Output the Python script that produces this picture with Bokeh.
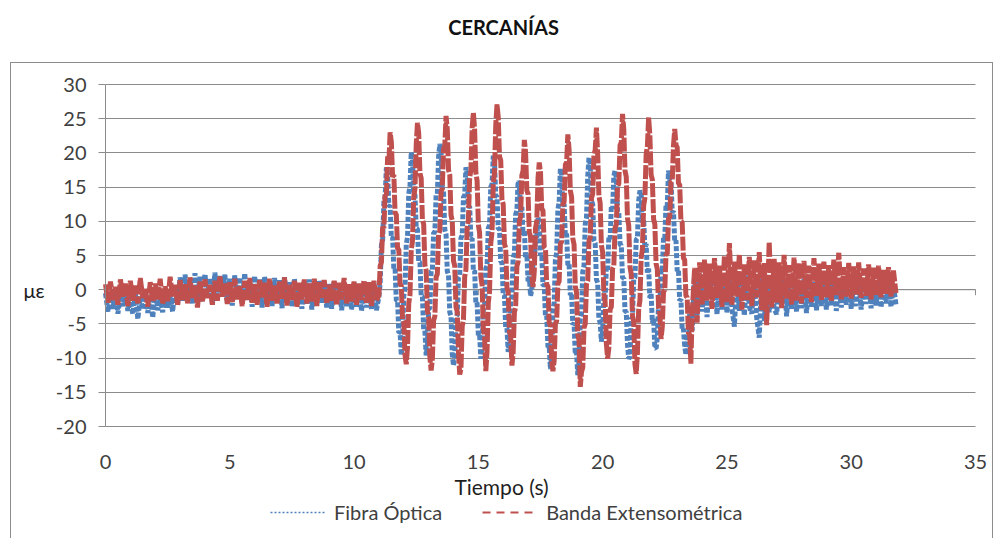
import numpy as np
from bokeh.plotting import figure
from bokeh.models import (Range1d, FixedTicker, Legend, LegendItem,
                          ColumnDataSource, InlineStyleSheet, Label)
from bokeh.embed import file_html
from bokeh.resources import INLINE

# ---------------- data ----------------
titulo = "CERCANÍAS"
eje_x = "Tiempo (s)"
eje_y = "με"
serie_fibra = "Fibra Óptica"
serie_banda = "Banda Extensométrica"
ticks_x = [0, 5, 10, 15, 20, 25, 30, 35]
ticks_y = [-20, -15, -10, -5, 0, 5, 10, 15, 20, 25, 30]

# tramo 1: 0.0 - 10.9 s, cada 0.1 s
fibra_ini = [
    -0.5, -3.2, -1.0, -2.8, 0.2, -3.5, -0.8, -2.4, -0.2, -3.1,
    -1.2, -3.6, -0.4, -4.3, -1.0, -2.9, 0.1, -3.4, -0.9, -4.1,
    -0.3, -3.0, -1.1, -3.3, 0.0, -2.6, -0.6, -3.2, 0.6, -2.2,
    1.8, -1.6, 2.2, -0.9, 1.5, -2.0, 2.4, -1.3, 1.9, -1.8,
    2.3, -1.1, 1.7, -2.1, 2.5, -1.4, 2.0, -0.8, 2.2, -1.9,
    1.6, -2.3, 2.1, -1.2, 1.8, -2.0, 2.4, -1.6, 1.3, -2.5,
    2.0, -1.7, 1.5, -2.6, 1.9, -1.3, 1.2, -2.4, 1.7, -2.0,
    1.4, -2.7, 1.8, -1.5, 1.1, -2.5, 1.6, -2.2, 0.9, -2.8,
    1.3, -2.1, 1.5, -2.9, 0.8, -2.3, 1.4, -1.9, 1.0, -2.6,
    0.9, -2.8, 1.2, -2.2, 0.6, -3.0, 1.0, -2.4, 0.7, -2.9,
    1.1, -2.5, 0.5, -3.1, 0.9, -2.6, 0.4, -2.8, 1.0, -3.0,
]
banda_ini = [
    0.8, -1.9, 1.2, -1.5, 0.4, -2.2, 1.5, -1.0, 0.9, -2.4,
    1.3, -1.6, 0.6, -2.0, 1.7, -1.2, 0.3, -2.5, 1.1, -1.8,
    0.9, -1.4, 1.6, -2.1, 0.5, -1.7, 1.9, -1.1, 0.7, -2.3,
    1.4, -1.5, 0.8, -2.0, 1.8, -1.3, 0.6, -2.6, 1.2, -1.7,
    1.5, -1.2, 0.7, -2.2, 1.3, -1.6, 2.0, -1.0, 0.9, -2.1,
    1.1, -1.8, 1.6, -1.4, 0.5, -2.4, 1.3, -1.5, 1.7, -1.9,
    0.8, -2.2, 1.4, -1.1, 1.0, -2.5, 1.6, -1.6, 0.6, -2.0,
    1.2, -1.3, 1.8, -2.3, 0.7, -1.5, 1.3, -2.6, 1.0, -1.4,
    1.5, -2.0, 0.9, -1.7, 1.6, -2.4, 1.1, -1.2, 1.4, -2.1,
    0.7, -1.6, 1.3, -2.3, 1.0, -1.4, 1.7, -2.0, 0.8, -1.7,
    1.2, -2.2, 0.9, -1.5, 1.4, -1.9, 1.1, -2.4, 1.3, -1.6,
]

# tramo 2: 11.00 - 23.55 s, cada 0.05 s
fibra_osc = [
    -1.0, 1.0, 6.5, 7.3, 12.9, 13.6, 17.9, 16.9, 12.2, 12.3,
    7.6, 7.7, 3.0, 3.1, -1.6, -1.6, -6.3, -6.2, -9.6, -7.3,
    -0.9, 0.2, 6.6, 7.7, 14.0, 15.2, 20.1, 18.9, 14.0, 13.9,
    9.0, 8.9, 4.1, 4.0, -0.9, -1.0, -5.9, -6.0, -9.6, -8.2,
    -2.8, -2.7, 2.7, 2.9, 8.3, 8.4, 13.8, 14.0, 19.4, 21.3,
    20.2, 14.8, 14.2, 8.8, 8.1, 2.7, 2.1, -3.3, -3.9, -9.4,
    -11.1, -9.6, -4.1, -3.7, 1.8, 2.1, 7.6, 7.9, 13.5, 13.8,
    17.9, 16.9, 12.1, 12.2, 7.4, 7.5, 2.7, 2.8, -2.0, -1.9,
    -6.7, -6.6, -10.1, -8.5, -2.9, -2.5, 3.1, 3.5, 9.0, 9.4,
    15.0, 15.4, 19.6, 18.5, 13.7, 13.7, 8.9, 8.9, 4.1, 4.0,
    -0.8, -0.8, -5.6, -5.6, -9.1, -7.4, -1.6, -1.0, 4.7, 5.3,
    11.0, 11.6, 15.9, 15.5, 11.4, 12.1, 8.0, 8.7, 4.6, 5.3,
    1.2, 1.9, -0.9, 0.0, 4.1, 3.7, 8.0, 7.6, 10.6, 9.7,
    5.0, 5.2, 0.6, 0.7, -3.9, -3.8, -8.4, -8.3, -11.6, -9.3,
    -3.0, -1.9, 4.4, 5.4, 11.7, 12.8, 17.7, 16.8, 12.3, 12.5,
    7.9, 8.2, 3.6, 3.8, -0.8, -0.5, -5.1, -4.9, -9.5, -9.2,
    -12.5, -10.4, -4.3, -3.5, 2.6, 3.5, 9.6, 10.5, 16.5, 19.3,
    18.3, 13.0, 12.5, 7.2, 6.8, 1.5, 1.0, -4.3, -4.8, -7.6,
    -5.9, -1.1, -1.5, 3.3, 2.9, 7.7, 7.4, 12.2, 11.8, 16.6,
    17.4, 16.3, 11.4, 11.4, 6.6, 6.5, 1.7, 1.7, -3.2, -3.2,
    -8.0, -10.1, -9.8, -4.3, -4.0, 1.5, 1.8, 7.3, 7.5, 13.0,
    14.5, 14.0, 9.8, 10.3, 6.1, 6.7, 2.5, 3.1, -1.2, -0.6,
    -4.8, -4.2, -8.5, -8.6, -7.1, -2.1, -2.2, 2.8, 2.6, 7.7,
    7.5, 12.5, 12.3, 17.4, 16.0, 15.8, 11.3, 11.5, 7.0, 7.2,
    2.7, 2.9, -1.6, -1.4, -5.9, -5.7, -8.2, -9.5, -6.5, -8.0,
    -3.5, -5.0,
]
banda_osc = [
    -0.8, 3.5, 4.0, 9.2, 9.0, 14.1, 13.8, 19.5, 18.6, 23.0,
    21.6, 16.5, 16.8, 11.2, 11.0, 6.0, 5.9, 0.8, 0.6, -4.3,
    -4.7, -9.6, -10.9, -8.4, -2.0, -0.7, 5.8, 7.1, 13.5, 14.8,
    21.2, 24.4, 22.9, 17.0, 16.3, 10.2, 9.6, 3.6, 2.8, -3.1,
    -4.0, -9.9, -11.8, -10.2, -4.5, -3.9, 1.8, 2.3, 8.1, 8.6,
    14.3, 14.8, 20.6, 21.1, 25.4, 23.5, 17.5, 16.8, 10.9, 10.1,
    4.2, 3.5, -2.5, -3.2, -9.1, -12.4, -11.6, -5.4, -4.4, 1.9,
    2.9, 9.1, 10.2, 16.4, 17.4, 23.7, 25.9, 23.4, 17.1, 15.9,
    9.5, 8.3, 1.9, 0.7, -5.7, -6.9, -11.9, -9.0, -1.9, -0.3,
    6.8, 8.4, 15.5, 17.1, 24.1, 27.1, 25.2, 19.5, 18.9, 13.1,
    12.5, 6.7, 6.1, 0.3, -0.3, -6.1, -6.7, -11.1, -9.2, -3.3,
    -2.5, 3.4, 4.1, 10.0, 10.7, 16.7, 17.4, 21.9, 20.1, 14.5,
    14.0, 8.3, 7.8, 2.1, 0.4, 2.7, 9.0, 10.0, 16.3, 18.6,
    17.1, 11.8, 11.6, 6.2, 6.0, 0.7, 0.5, -4.9, -5.1, -10.5,
    -11.9, -10.4, -4.9, -4.6, 0.9, 1.2, 6.7, 7.0, 12.5, 12.8,
    18.3, 18.6, 22.7, 20.5, 14.5, 13.6, 7.5, 6.6, 0.5, -0.4,
    -6.5, -7.4, -14.2, -12.0, -11.4, -5.6, -5.0, 0.8, 1.3, 7.1,
    7.7, 13.4, 14.0, 19.8, 20.4, 23.7, 19.9, 13.7, 12.7, 6.5,
    5.5, -0.7, -1.7, -7.9, -10.1, -8.5, -2.9, -2.5, 3.1, 3.5,
    9.1, 9.5, 15.1, 15.5, 21.1, 21.5, 25.7, 23.5, 17.4, 16.5,
    10.4, 9.4, 3.3, 2.3, -3.8, -4.7, -10.9, -12.3, -9.2, -2.8,
    -1.6, 4.7, 5.9, 12.3, 13.4, 19.8, 21.0, 25.2, 22.6, 16.8,
    16.1, 10.3, 9.6, 3.8, 3.0, -2.7, -3.5, -7.2, -5.4, -0.2,
    -0.1, 5.2, 5.2, 10.5, 10.5, 15.8, 15.9, 21.1, 23.5, 21.2,
    20.8, 15.5, 15.4, 10.0, 9.9, 4.6, 4.4, -0.9, -1.1, -6.4,
    -6.5, -10.8,
]

# tramo 3: 23.6 - 31.8 s, cada 0.1 s
fibra_fin = [
    -6.0, 2.5, -3.8, 3.0,
    -3.2, 2.0, -4.0, 1.6, -2.6, 2.4, -3.6, 1.2, -2.9, 2.2,
    -3.4, 1.5, -2.7, -5.4, 1.9, -3.1, 1.3, -3.8, 2.1, -2.5,
    -3.5, 1.4, -4.2, -7.0, 1.8, -4.6, 0.9, -3.3, 1.6, -2.8,
    -3.6, 1.1, -2.6, 1.7, -3.9, 0.8, -2.9, 1.5, -3.2, 1.0,
    -2.7, 1.6, -3.4, 0.9, -2.5, 1.8, -3.0, 1.2, -2.4, 1.4,
    -2.9, 1.0, -2.3, 1.7, -3.1, 0.7, -2.6, 1.3, -2.2, 1.1,
    -2.8, 0.8, -2.4, 1.5, -2.9, 1.0, -2.1, 1.2, -2.7, 0.6,
    -2.3, 1.3, -2.6, 0.9, -2.0, 1.1, -2.5, 0.7, -2.2,
]
banda_fin = [
    -3.5, 3.2, -4.8, 4.0,
    -2.3, 4.4, -1.6, 3.8, -2.8, 4.6, -1.2, 3.5, -2.5, 5.0,
    -1.8, 6.8, -2.2, 4.1, -1.0, 5.2, -2.9, 3.7, -1.5, 4.8,
    -2.4, 4.3, -1.1, 5.5, -3.0, 3.9, -5.2, 7.0, -2.6, 4.5,
    -1.9, 4.0, -2.7, 5.1, -1.3, 3.6, -2.2, 4.7, -1.6, 3.9,
    -2.0, 4.2, -1.2, 3.5, -1.8, 4.6, -0.9, 3.8, -1.5, 4.1,
    -1.1, 3.6, -1.7, 4.4, -0.8, 5.4, -1.4, 3.3, -1.0, 3.9,
    -1.3, 3.4, -0.7, 4.0, -1.2, 3.1, -0.9, 3.7, -1.4, 3.2,
    -0.8, 3.5, -1.1, 2.9, -0.6, 3.3, -1.0, 2.8, -0.5,
]

# sampling instants of each stretch
tiempo_ini = [round(0.1 * i, 2) for i in range(len(fibra_ini))]
tiempo_osc = [round(11.0 + 0.05 * i, 2) for i in range(len(fibra_osc))]
tiempo_fin = [round(23.6 + 0.1 * i, 2) for i in range(len(fibra_fin))]

tiempo = tiempo_ini + tiempo_osc + tiempo_fin
fibra = fibra_ini + fibra_osc + fibra_fin
banda = banda_ini + banda_osc + banda_fin

# ---------------- layout constants (pixels) ----------------
W, H = 996, 538
PLOT_L, PLOT_R = 105, 975        # x = 0 and x = 35
PLOT_T, PLOT_B = 84, 426         # y = 30 and y = -20
X0, X1 = ticks_x[0], ticks_x[-1]
Y0, Y1 = ticks_y[0], ticks_y[-1]
PX_X = (PLOT_R - PLOT_L) / (X1 - X0)
PX_Y = (PLOT_B - PLOT_T) / (Y1 - Y0)


def gx(px):
    return X0 + (px - PLOT_L) / PX_X


def gy(py):
    return Y1 - (py - PLOT_T) / PX_Y


AZUL = "#4f81bd"
ROJO = "#c0504d"
GRIS = "#8c8c8c"
TXT = "#404040"
FUENTE = "Lato"

src = ColumnDataSource(dict(t=tiempo, fibra=fibra, banda=banda))

marco = InlineStyleSheet(css=(
    ":host::after { content: ''; position: absolute; left: 10px; top: 62px; "
    "width: 983px; height: 520px; border: 1px solid #8c8c8c; "
    "box-sizing: border-box; pointer-events: none; }"))

# the frame covers the whole canvas; the axes are pinned at x = 0 and y = -20
p = figure(width=W, height=H, output_backend="svg", toolbar_location=None,
           x_range=Range1d(gx(0), gx(W)), y_range=Range1d(gy(H), gy(0)),
           min_border_left=0, min_border_right=0,
           min_border_top=0, min_border_bottom=0,
           stylesheets=[marco])
p.background_fill_color = "white"
p.border_fill_color = "white"
p.outline_line_color = None

# horizontal gridlines limited to the plot area
p.xgrid.visible = False
p.ygrid.grid_line_color = GRIS
p.ygrid.grid_line_width = 1
try:
    p.ygrid.cross_bounds = (X0, X1)
except AttributeError:
    p.ygrid.visible = False
    p.segment(x0=[X0] * len(ticks_y), y0=ticks_y, x1=[X1] * len(ticks_y), y1=ticks_y,
              line_color=GRIS, line_width=1)

p.yaxis.ticker = FixedTicker(ticks=ticks_y)
p.yaxis.fixed_location = X0
p.yaxis.bounds = (Y0, Y1)
p.yaxis.major_label_overrides = {v: str(v) for v in ticks_y}
p.yaxis.axis_line_color = GRIS
p.yaxis.major_tick_line_color = GRIS
p.yaxis.major_tick_out = 7
p.yaxis.major_tick_in = 0
p.yaxis.minor_tick_line_color = None
p.yaxis.major_label_standoff = 12
p.yaxis.major_label_text_font = FUENTE
p.yaxis.major_label_text_font_size = "20px"
p.yaxis.major_label_text_color = TXT

# x axis: labels hang below the lowest gridline
p.xaxis.ticker = FixedTicker(ticks=ticks_x)
p.xaxis.fixed_location = Y0
p.xaxis.axis_line_color = None
p.xaxis.major_tick_line_color = None
p.xaxis.minor_tick_line_color = None
p.xaxis.major_tick_out = 0
p.xaxis.major_tick_in = 0
p.xaxis.major_label_standoff = 28
p.xaxis.major_label_text_font = FUENTE
p.xaxis.major_label_text_font_size = "20px"
p.xaxis.major_label_text_color = TXT

# horizontal axis line crossing at y = 0, with its ticks
p.segment(x0=X0, y0=0, x1=X1, y1=0, line_color=GRIS, line_width=1)
p.segment(x0=ticks_x, y0=[0] * len(ticks_x), x1=ticks_x, y1=[-0.8] * len(ticks_x),
          line_color=GRIS, line_width=1)

# data
p.line("t", "fibra", source=src, line_color=AZUL, line_width=5, line_dash="5 2")
p.line("t", "banda", source=src, line_color=ROJO, line_width=5, line_dash="14 2")

# titles
p.add_layout(Label(x=gx(503), y=gy(26), text=titulo, text_align="center",
                   text_baseline="middle", text_font=FUENTE, text_font_style="bold",
                   text_font_size="20px", text_color="#111111"))
p.add_layout(Label(x=gx(501), y=gy(486), text=eje_x, text_align="center",
                   text_baseline="middle", text_font=FUENTE,
                   text_font_size="21px", text_color="#1f1f1f"))
p.add_layout(Label(x=gx(23), y=0, text=eje_y, text_align="left",
                   text_baseline="middle", text_font=FUENTE,
                   text_font_size="20px", text_color="#1f1f1f"))

# legend with sample glyphs
nada = np.array([np.nan, np.nan])
leg_f = p.line(x=nada, y=nada, line_color=AZUL, line_width=1.5, line_dash="2 2")
leg_b = p.line(x=nada, y=nada, line_color=ROJO, line_width=2, line_dash="8 6")
legend = Legend(items=[LegendItem(label=serie_fibra, renderers=[leg_f]),
                       LegendItem(label=serie_banda, renderers=[leg_b])],
                location=(270, H - 524), orientation="horizontal",
                glyph_width=55, glyph_height=20, label_standoff=9, spacing=40,
                padding=0, margin=0, border_line_color=None,
                background_fill_alpha=0,
                label_text_font=FUENTE, label_text_font_size="20px",
                label_text_color=TXT)
p.add_layout(legend)

open("out.html", "w").write(file_html(p, INLINE))
